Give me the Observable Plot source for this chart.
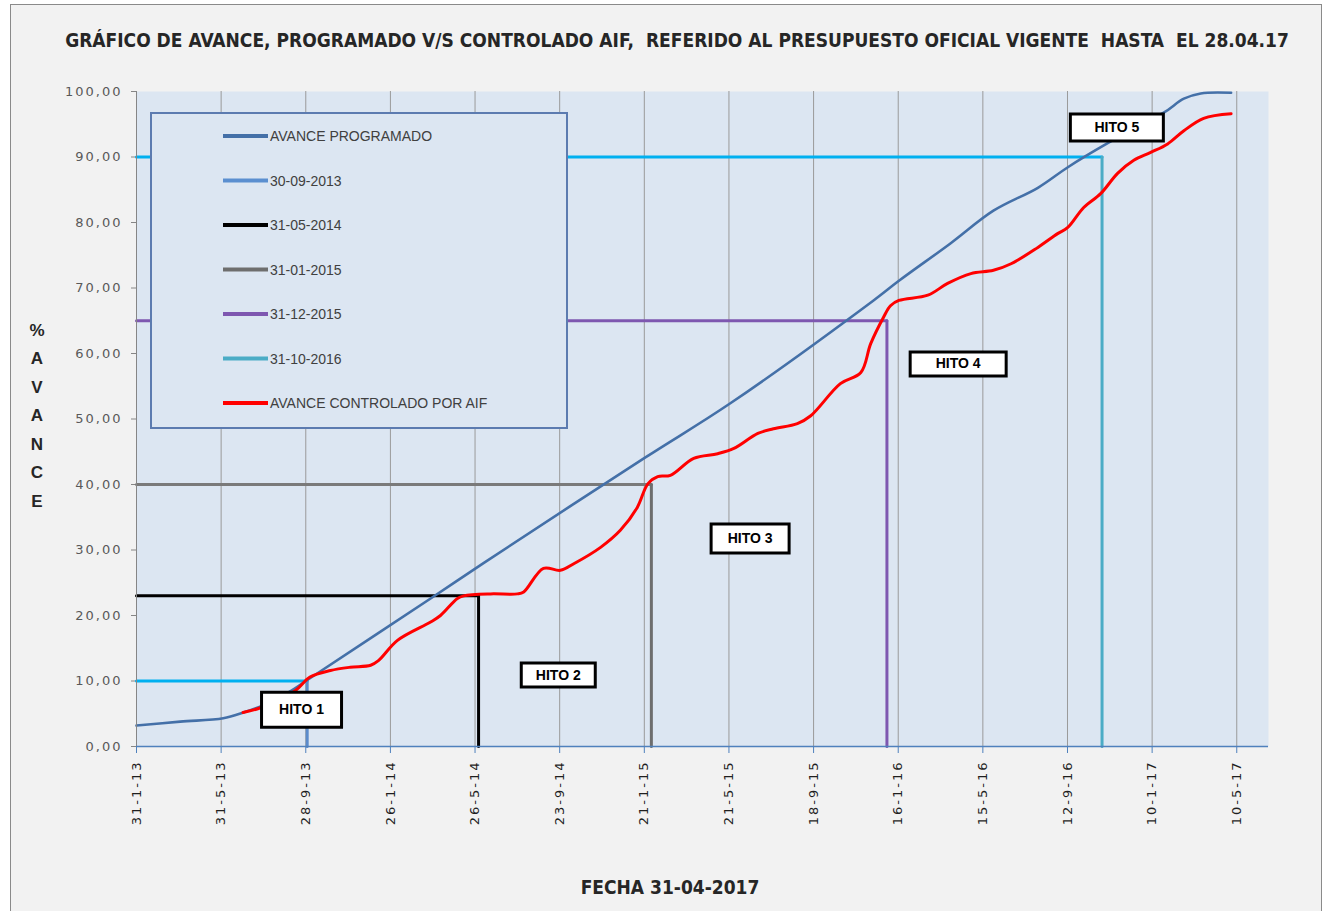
<!DOCTYPE html>
<html>
<head>
<meta charset="utf-8">
<script src="https://cdn.jsdelivr.net/npm/d3@7"></script>
<script src="https://cdn.jsdelivr.net/npm/@observablehq/plot@0.6"></script>
<style>
  html, body { margin: 0; padding: 0; background: #ffffff; }
  #wrap { position: relative; width: 1326px; height: 911px; overflow: hidden; }
  #frame { position: absolute; left: 10px; top: 4px; width: 1312px; height: 912px; background: #F2F2F2; border: 1px solid #8a8a8a; box-sizing: border-box; }
  #chart { position: absolute; left: 0; top: 0; }
  #overlay { position: absolute; left: 0; top: 0; pointer-events: none; }
  .chart [aria-label^="x-axis"] text { fill: #1f1f1f; letter-spacing: 2px; }
  .chart [aria-label^="y-axis"] text { fill: #595959; letter-spacing: 2px; }
  .chart [aria-label^="x-axis"] path, .chart [aria-label^="x-axis"] line { stroke: #4F81BD; }
  .chart [aria-label^="y-axis"] path, .chart [aria-label^="y-axis"] line { stroke: #868686; }
</style>
</head>
<body>
<div id="wrap">
  <div id="frame"></div>
  <div id="chart"></div>
  <svg id="overlay" width="1326" height="911"></svg>
</div>
<script>
// ---------------- DATA ----------------
const titleText = "GRÁFICO DE AVANCE, PROGRAMADO V/S CONTROLADO AIF,  REFERIDO AL PRESUPUESTO OFICIAL VIGENTE  HASTA  EL 28.04.17";
const yAxisLetters = ["%", "A", "V", "A", "N", "C", "E"];
const xAxisTitle = "FECHA 31-04-2017";

const startDate = "2013-01-31";
const endDate = "2017-06-24";

const tickDates = ["2013-01-31","2013-05-31","2013-09-28","2014-01-26","2014-05-26","2014-09-23","2015-01-21",
                   "2015-05-21","2015-09-18","2016-01-16","2016-05-15","2016-09-12","2017-01-10","2017-05-10"];
const tickLabels = ["31-1-13","31-5-13","28-9-13","26-1-14","26-5-14","23-9-14","21-1-15",
                    "21-5-15","18-9-15","16-1-16","15-5-16","12-9-16","10-1-17","10-5-17"];
const yTicks = [0, 10, 20, 30, 40, 50, 60, 70, 80, 90, 100];

// AVANCE PROGRAMADO
const progDates = ["2013-01-31","2013-04-03","2013-06-03","2013-07-02","2013-07-30","2013-09-07","2013-10-05",
                   "2014-03-24","2014-06-07","2015-01-22","2015-05-23","2015-12-12","2016-01-17","2016-03-30",
                   "2016-05-30","2016-08-01","2016-09-12","2016-11-08","2017-01-27","2017-02-24","2017-03-20","2017-05-02"];
const progValues = [3.2, 3.8, 4.3, 5.2, 6.3, 8.5, 10.5,
                    22.6, 28.0, 44.1, 52.4, 68.1, 71.1, 76.8,
                    81.8, 85.3, 88.4, 92.1, 96.8, 98.9, 99.7, 99.8];

// AVANCE CONTROLADO POR AIF
const aifDates = ["2013-07-01","2013-07-23","2013-08-15","2013-09-13","2013-10-04","2013-11-02","2013-11-30","2013-12-29",
                  "2014-01-09","2014-02-05","2014-03-24","2014-04-07","2014-05-01","2014-05-10","2014-06-17","2014-07-25",
                  "2014-08-03","2014-08-31","2014-09-24","2014-10-13","2014-11-20","2014-12-18","2015-01-11","2015-01-26",
                  "2015-02-09","2015-02-27","2015-04-01","2015-05-05","2015-05-28","2015-07-01","2015-07-23","2015-08-26",
                  "2015-09-14","2015-10-26","2015-11-24","2015-12-08","2015-12-26","2016-01-05","2016-01-17","2016-02-27",
                  "2016-03-26","2016-04-28","2016-05-30","2016-06-24","2016-08-01","2016-08-29","2016-09-12","2016-10-05",
                  "2016-10-29","2016-11-22","2016-12-15","2017-01-08","2017-02-01","2017-02-24","2017-03-24","2017-05-02"];
const aifValues = [5.2, 5.8, 6.9, 8.5, 10.6, 11.6, 12.1, 12.4,
                   13.1, 16.2, 19.0, 20.0, 22.6, 23.0, 23.3, 23.3,
                   23.6, 27.2, 26.9, 27.9, 30.4, 33.0, 36.5, 40.1,
                   41.2, 41.4, 44.0, 44.7, 45.5, 47.8, 48.5, 49.3,
                   50.5, 55.4, 57.1, 61.5, 65.5, 67.3, 68.1, 68.9,
                   70.7, 72.2, 72.7, 73.7, 76.2, 78.3, 79.2, 82.3,
                   84.4, 87.5, 89.5, 90.7, 92.0, 94.0, 95.9, 96.6];

// Milestones (hitos)
const hitoSeries = ["30-09-2013", "31-05-2014", "31-01-2015", "31-12-2015", "31-10-2016"];
const hitoDates = ["2013-09-30", "2014-05-31", "2015-01-31", "2015-12-31", "2016-10-31"];
const hitoTargets = [10, 23, 40, 65, 90];

// Hito label boxes
const hitoLabels = ["HITO 1", "HITO 2", "HITO 3", "HITO 4", "HITO 5"];
const hitoLabelDates = ["2013-09-22", "2014-09-21", "2015-06-20", "2016-04-10", "2016-11-21"];
const hitoLabelValues = [5.6, 10.9, 31.75, 58.4, 94.5];

const legendNames = ["AVANCE PROGRAMADO", ...hitoSeries, "AVANCE CONTROLADO POR AIF"];

// ---------------- STYLES ----------------
const progColor = "#4470A8";
const aifColor = "#FF0000";
const hitoVColors = ["#5B8BCB", "#000000", "#6E6E6E", "#7E57B0", "#4BACC6"];
const hitoHColors = ["#00B0F0", "#000000", "#7A7A7A", "#7E57B0", "#00B0F0"];
const hitoLegendColors = ["#5B8FD0", "#000000", "#6E6E6E", "#7E57B0", "#4BACC6"];
const hitoBoxSizes = [[80, 35], [74, 24], [78, 29], [96, 24], [93, 27]];

// ---------------- BUILD ----------------
const parse = s => new Date(s + "T00:00:00Z");
const labelMap = new Map(tickDates.map((s, i) => [+parse(s), tickLabels[i]]));
const boxSymbol = (w, h) => ({ draw(ctx) { ctx.rect(-w / 2, -h / 2, w, h); } });

const progData = progDates.map((d, i) => ({ d: parse(d), v: progValues[i] }));
const aifData = aifDates.map((d, i) => ({ d: parse(d), v: aifValues[i] }));

const milestoneMarks = [];
hitoDates.forEach((hd, i) => {
  const h = [{ d: parse(startDate), v: hitoTargets[i] }, { d: parse(hd), v: hitoTargets[i] }];
  const vtc = [{ d: parse(hd), v: hitoTargets[i] }, { d: parse(hd), v: 0 }];
  milestoneMarks.push(Plot.line(h, { x: "d", y: "v", stroke: hitoHColors[i], strokeWidth: 3 }));
  milestoneMarks.push(Plot.line(vtc, { x: "d", y: "v", stroke: hitoVColors[i], strokeWidth: 3 }));
});

const labelMarks = [];
hitoLabels.forEach((lab, i) => {
  const row = [{ d: parse(hitoLabelDates[i]), v: hitoLabelValues[i], t: lab }];
  labelMarks.push(Plot.dot(row, { x: "d", y: "v", symbol: boxSymbol(hitoBoxSizes[i][0], hitoBoxSizes[i][1]),
    fill: "#ffffff", stroke: "#000000", strokeWidth: 3, r: 5 }));
  labelMarks.push(Plot.text(row, { x: "d", y: "v", text: "t", fill: "#000000", fontWeight: "bold",
    fontSize: 14, fontFamily: "Liberation Sans, Arial, sans-serif" }));
});

const chart = Plot.plot({
  width: 1326,
  height: 911,
  marginLeft: 136,
  marginRight: 58,
  marginTop: 91,
  marginBottom: 165,
  className: "chart",
  style: { background: "transparent", fontFamily: "DejaVu Sans, sans-serif", fontSize: "13px", overflow: "visible" },
  x: {
    type: "utc",
    domain: [parse(startDate), parse(endDate)],
    ticks: tickDates.map(parse),
    tickFormat: d => labelMap.get(+d),
    tickRotate: -90,
    tickSize: 7,
    tickPadding: 7,
    label: null
  },
  y: {
    domain: [0, 100],
    ticks: yTicks,
    tickFormat: d => d3.format(".2f")(d).replace(".", ","),
    tickSize: 5,
    tickPadding: 9,
    label: null
  },
  marks: [
    Plot.frame({ fill: "#DCE6F2", stroke: "none" }),
    Plot.ruleX(tickDates.map(parse), { stroke: "#9A9A9A", strokeWidth: 1 }),
    ...milestoneMarks,
    Plot.line(progData, { x: "d", y: "v", stroke: progColor, strokeWidth: 2.6, curve: "catmull-rom" }),
    Plot.line(aifData, { x: "d", y: "v", stroke: aifColor, strokeWidth: 3, curve: "catmull-rom" }),
    Plot.ruleX([parse(startDate)], { stroke: "#868686", strokeWidth: 1 }),
    Plot.ruleY([0], { stroke: "#4F81BD", strokeWidth: 1.5 }),
    ...labelMarks
  ]
});
document.getElementById("chart").appendChild(chart);

// ---------------- OVERLAY TEXT + LEGEND ----------------
const ov = d3.select("#overlay");
ov.append("text")
  .attr("x", 677).attr("y", 47)
  .attr("text-anchor", "middle")
  .style("white-space", "pre")
  .style("font-family", "'DejaVu Sans Condensed', 'Liberation Sans Narrow', sans-serif")
  .style("font-weight", "bold").style("font-size", "19px").style("fill", "#262626")
  .text(titleText);

yAxisLetters.forEach((ch, i) => {
  ov.append("text")
    .attr("x", 37).attr("y", 330 + i * 28.5)
    .attr("text-anchor", "middle").attr("dominant-baseline", "central")
    .style("font-family", "'Liberation Sans', Arial, sans-serif")
    .style("font-weight", "bold").style("font-size", "17px").style("fill", "#262626")
    .text(ch);
});

ov.append("text")
  .attr("x", 670).attr("y", 894)
  .attr("text-anchor", "middle")
  .style("font-family", "'DejaVu Sans Condensed', 'Liberation Sans Narrow', sans-serif")
  .style("font-weight", "bold").style("font-size", "19px").style("fill", "#262626")
  .text(xAxisTitle);

const lg = ov.append("g");
lg.append("rect").attr("x", 151).attr("y", 113).attr("width", 416).attr("height", 315)
  .attr("fill", "#DCE6F2").attr("stroke", "#5C7BB0").attr("stroke-width", 2);
const legendColors = [progColor, ...hitoLegendColors, aifColor];
legendNames.forEach((name, i) => {
  const cy = 136 + i * 44.5;
  lg.append("line").attr("x1", 223).attr("x2", 268).attr("y1", cy).attr("y2", cy)
    .attr("stroke", legendColors[i]).attr("stroke-width", 4);
  lg.append("text").attr("x", 270).attr("y", cy).attr("dominant-baseline", "central")
    .style("font-family", "'Liberation Sans', Arial, sans-serif")
    .style("font-size", "14px").style("fill", "#404040")
    .text(name);
});
</script>
</body>
</html>
